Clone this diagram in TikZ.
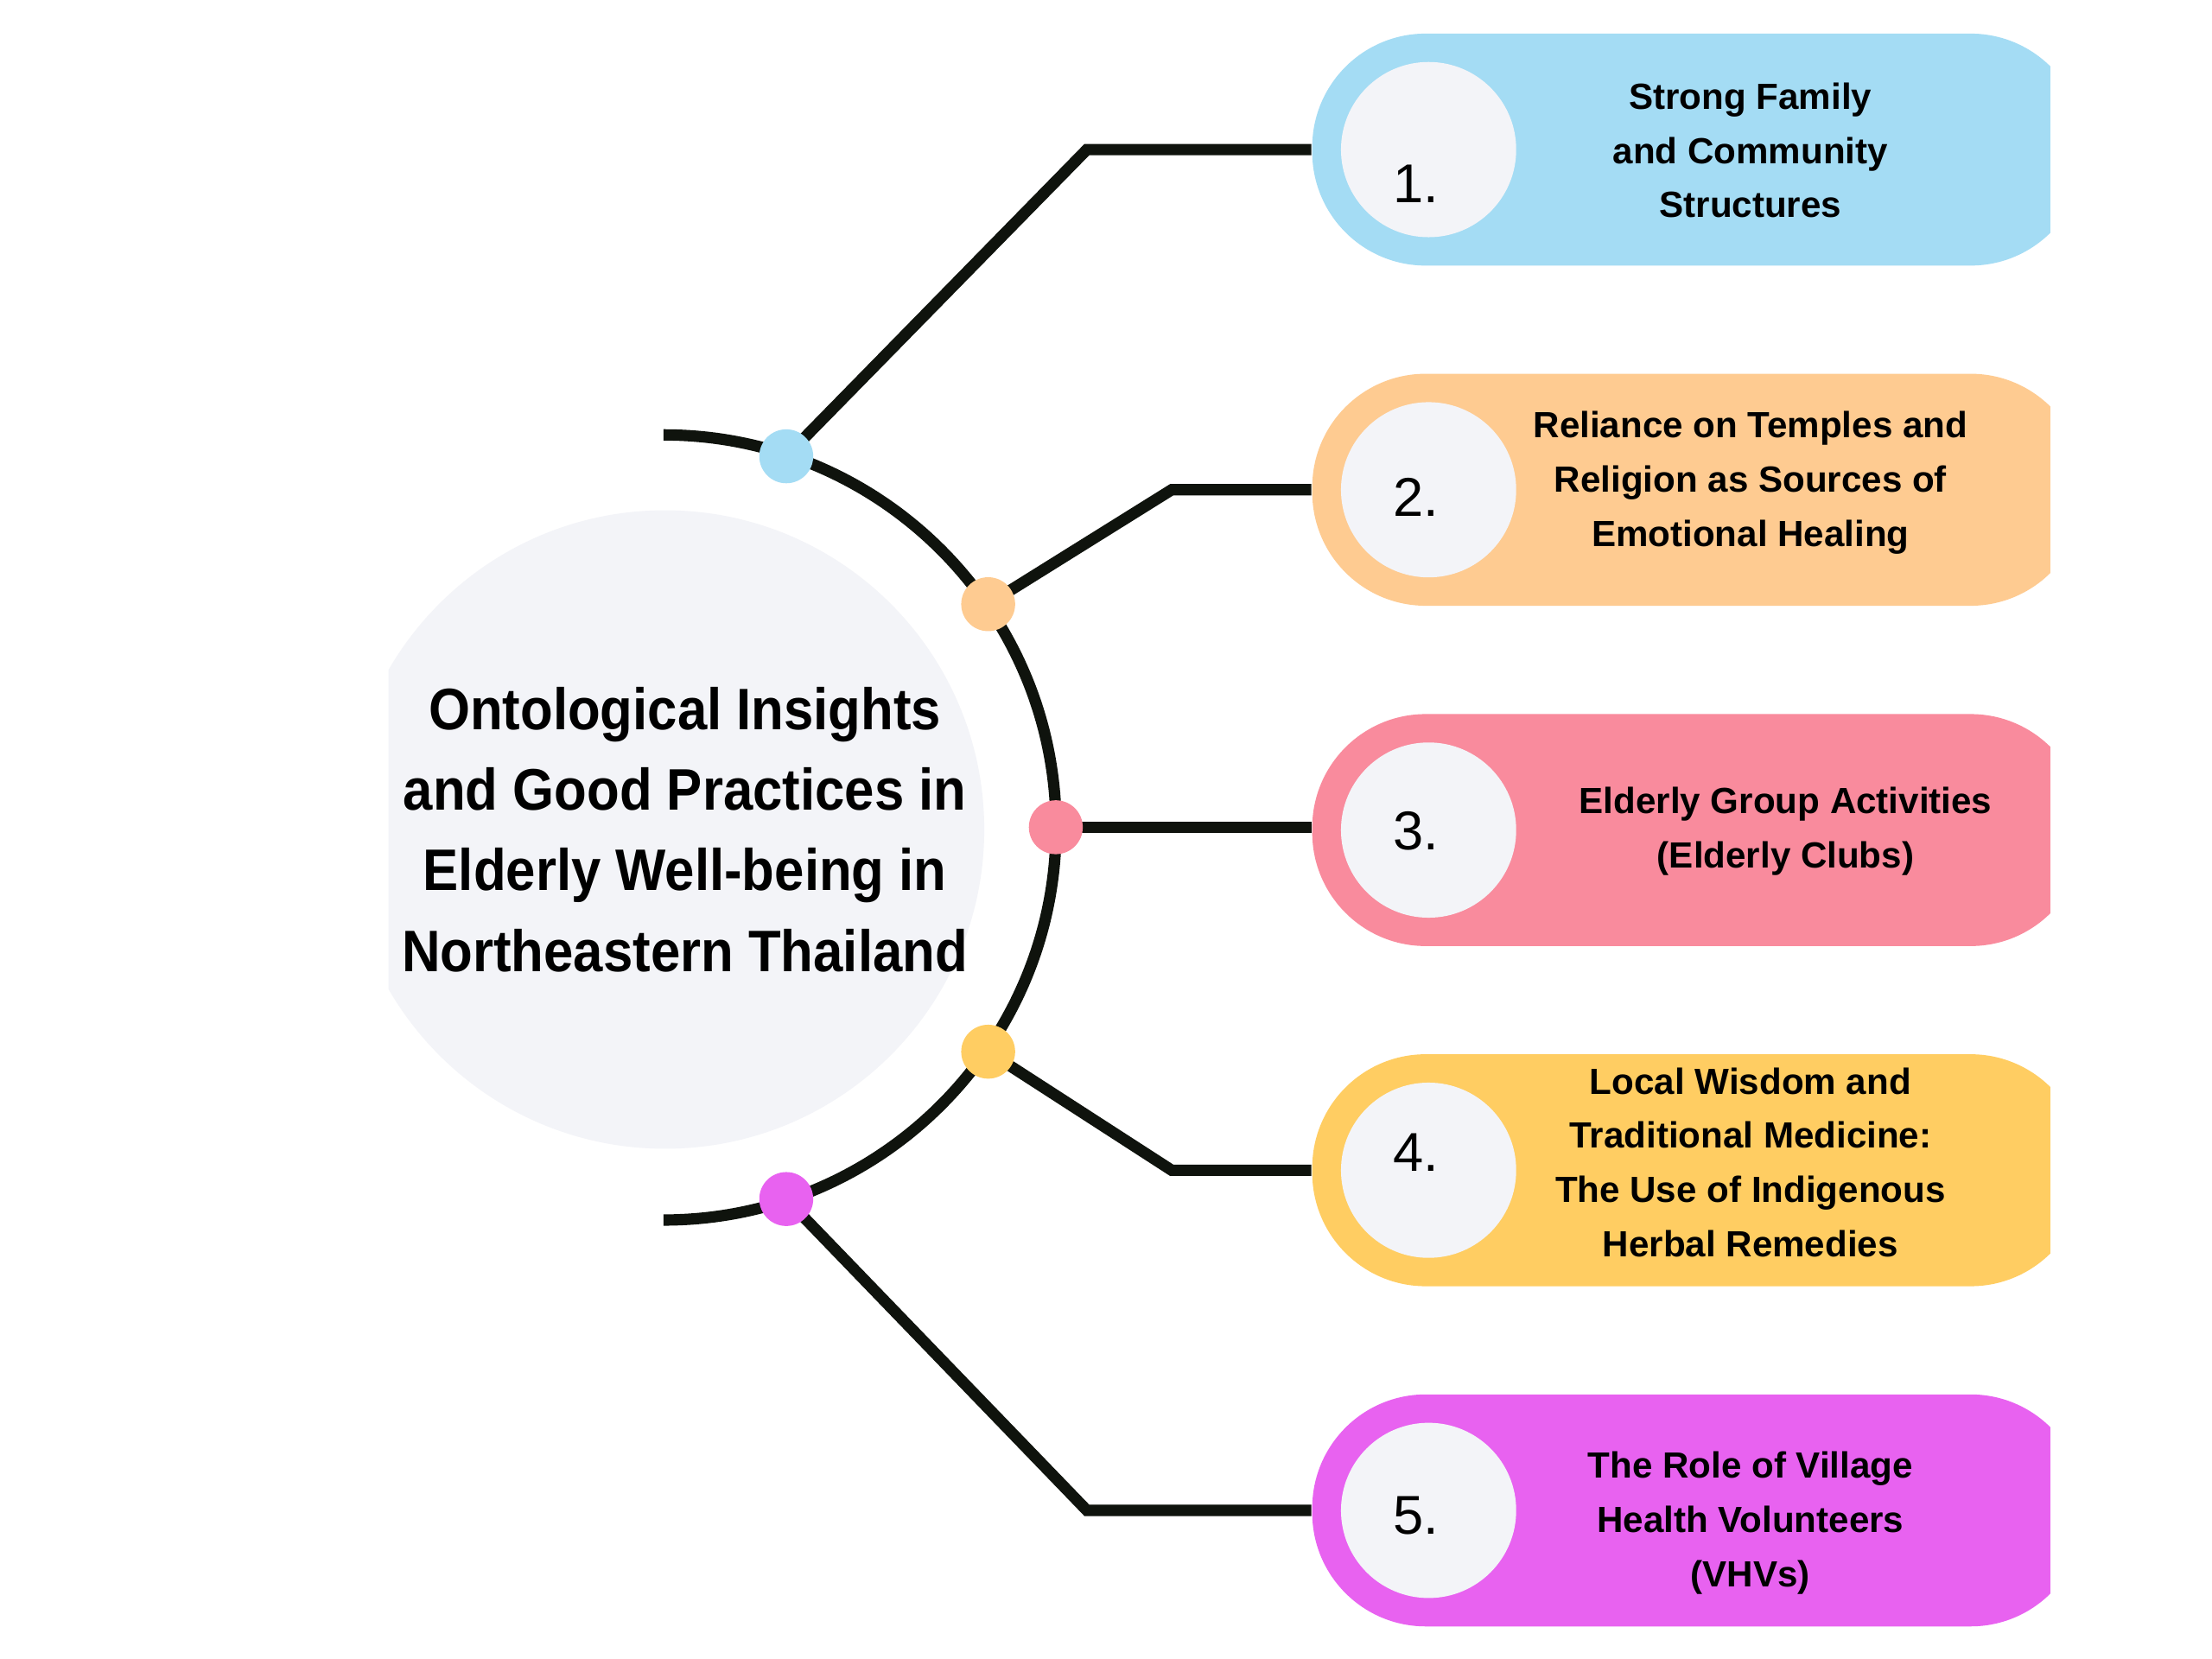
\documentclass[tikz,border=0pt]{standalone}
\usepackage{fontspec}
\setmainfont{Liberation Sans}
\newfontfamily\titlefont{Liberation Sans}[FakeStretch=0.91]
\definecolor{ink}{HTML}{0F130D}
\definecolor{soft}{HTML}{F3F4F8}
\definecolor{cblue}{HTML}{A4DCF4}
\definecolor{corange}{HTML}{FECB91}
\definecolor{cpink}{HTML}{F98B9D}
\definecolor{cyellow}{HTML}{FFCD62}
\definecolor{cmagenta}{HTML}{E862F0}
\begin{document}
\begin{tikzpicture}[x=0.01cm,y=-0.01cm,
  conn/.style={line width=0.08cm, draw=ink},
  dotnode/.style={circle, minimum size=0.38cm, inner sep=0pt, fill=#1},
  innercirc/.style={circle, minimum size=1.235cm, inner sep=0pt, fill=soft},
  pill/.style={fill=#1, rounded corners=0.8cm, minimum width=5.44cm, minimum height=1.635cm, inner sep=0pt},
  numtxt/.style={font=\fontsize{10.96}{13}\selectfont, anchor=base, inner sep=0pt},
  boxtxt/.style={font=\bfseries\fontsize{7.3}{10.9}\selectfont, align=center, inner sep=0pt},
  titletxt/.style={font=\titlefont\bfseries\fontsize{11.75}{16.2}\selectfont, align=center, inner sep=0pt}]
\useasboundingbox (0,0) rectangle (1560,1170);
\fill[white] (0,0) rectangle (1560,1170);

% central circle (clipped on the left)
\begin{scope}
  \clip (274,0) rectangle (1560,1170);
  \node[circle, fill=soft, minimum size=4.5cm, inner sep=0pt] (hub) at (469,585) {};
\end{scope}
\node[titletxt] (title) at (483,585) {Ontological Insights\\and Good Practices in\\Elderly Well-being in\\Northeastern Thailand};

% pills (clipped on the right)
\begin{scope}
  \clip (0,0) rectangle (1446,1170);
  \node[pill=cblue]    (p1) at (1197.6,105.5)  {};
  \node[pill=corange]  (p2) at (1197.6,345.4)  {};
  \node[pill=cpink]    (p3) at (1197.6,585.4)  {};
  \node[pill=cyellow]  (p4) at (1197.6,825.3)  {};
  \node[pill=cmagenta] (p5) at (1197.6,1065.2) {};
\end{scope}

% arc
\coordinate (atop) at (467.9,306.7);
\draw[conn] (atop) arc[start angle=90, end angle=-90, radius=2.767cm] coordinate (abot);

% corners of connectors
\coordinate (k1) at (766.5,105.5);
\coordinate (k2) at (826.3,345.4);
\coordinate (k4) at (826.3,825.3);
\coordinate (k5) at (766.5,1065.2);

% dots (positions)
\coordinate (d1) at (554.5,321.8);
\coordinate (d2) at (696.9,426.1);
\coordinate (d3) at (744.6,583.4);
\coordinate (d4) at (696.9,741.7);
\coordinate (d5) at (554.5,845.6);

% connectors
\draw[conn] (d1) -- (k1) -- (p1.west);
\draw[conn] (d2) -- (k2) -- (p2.west);
\draw[conn] (d3) -- (d3 -| p3.west);
\draw[conn] (d4) -- (k4) -- (p4.west);
\draw[conn] (d5) -- (k5) -- (p5.west);

% dots on top
\node[dotnode=cblue]    (n-d1) at (d1) {};
\node[dotnode=corange]  (n-d2) at (d2) {};
\node[dotnode=cpink]    (n-d3) at (d3) {};
\node[dotnode=cyellow]  (n-d4) at (d4) {};
\node[dotnode=cmagenta] (n-d5) at (d5) {};

% inner circles
\node[innercirc] (c1) at (1007.5,105.5)  {};
\node[innercirc] (c2) at (1007.5,345.4)  {};
\node[innercirc] (c3) at (1007.5,585.4)  {};
\node[innercirc] (c4) at (1007.5,825.3)  {};
\node[innercirc] (c5) at (1007.5,1065.2) {};

% numbers
\node[numtxt] (n1) at (998.5,143)   {1.};
\node[numtxt] (n2) at (998.5,364.4) {2.};
\node[numtxt] (n3) at (998.5,599.3) {3.};
\node[numtxt] (n4) at (998.5,826.3) {4.};
\node[numtxt] (n5) at (998.5,1082.1) {5.};

% texts
\node[boxtxt] (t1) at (1234.5,106)   {Strong Family\\and Community\\Structures};
\node[boxtxt] (t2) at (1234.5,340.5) {Reliance on Temples and\\Religion as Sources of\\Emotional Healing};
\node[boxtxt] (t3) at (1259.3,586.4) {Elderly Group Activities\\(Elderly Clubs)};
\node[boxtxt] (t4) at (1234.5,819.8) {Local Wisdom and\\Traditional Medicine:\\The Use of Indigenous\\Herbal Remedies};
\node[boxtxt] (t5) at (1234.5,1074.2) {The Role of Village\\Health Volunteers\\(VHVs)};
\end{tikzpicture}
\end{document}
